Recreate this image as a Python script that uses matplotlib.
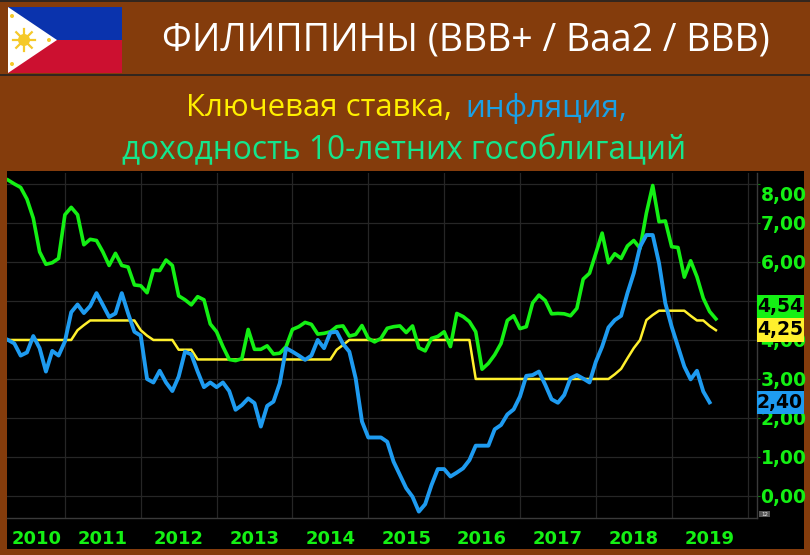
import matplotlib
matplotlib.use('Agg')
import matplotlib.pyplot as plt
from matplotlib.patches import Rectangle, Polygon, Circle
from matplotlib.transforms import ScaledTranslation
import numpy as np

# monthly values, Apr 2010 - Aug 2019 (inflation stops one month earlier)
bond_yield = [8.10, 8.00, 7.91, 7.61, 7.12, 6.26, 5.94, 5.98, 6.09, 7.21, 7.40, 7.21, 6.44, 6.58, 6.55,
              6.26, 5.91, 6.22, 5.91, 5.87, 5.41, 5.39, 5.21, 5.79, 5.78, 6.05, 5.91, 5.13, 5.03, 4.90,
              5.11, 5.03, 4.41, 4.21, 3.83, 3.50, 3.47, 3.52, 4.27, 3.76, 3.76, 3.85, 3.64, 3.66, 3.83,
              4.27, 4.34, 4.45, 4.40, 4.15, 4.17, 4.21, 4.34, 4.36, 4.10, 4.14, 4.37, 4.04, 3.95, 4.04,
              4.30, 4.34, 4.36, 4.19, 4.36, 3.80, 3.72, 4.04, 4.09, 4.21, 3.83, 4.68, 4.60, 4.47, 4.21,
              3.25, 3.40, 3.62, 3.91, 4.50, 4.62, 4.29, 4.34, 4.95, 5.15, 5.01, 4.67, 4.68, 4.67, 4.62,
              4.81, 5.56, 5.71, 6.22, 6.74, 5.98, 6.21, 6.09, 6.41, 6.55, 6.35, 7.25, 7.96, 7.03, 7.05,
              6.39, 6.37, 5.61, 6.03, 5.62, 5.07, 4.73, 4.54]
inflation = [4.00, 3.91, 3.60, 3.68, 4.10, 3.79, 3.19, 3.72, 3.60, 3.96, 4.71, 4.91, 4.69, 4.87, 5.20,
             4.90, 4.59, 4.68, 5.20, 4.68, 4.21, 4.11, 3.00, 2.91, 3.21, 2.91, 2.69, 3.06, 3.70, 3.63,
             3.19, 2.79, 2.91, 2.79, 2.91, 2.69, 2.21, 2.33, 2.50, 2.38, 1.78, 2.31, 2.42, 2.89, 3.79,
             3.70, 3.60, 3.49, 3.60, 4.00, 3.79, 4.19, 4.21, 3.90, 3.70, 3.02, 1.91, 1.50, 1.50, 1.50,
             1.39, 0.88, 0.54, 0.20, -0.02, -0.40, -0.21, 0.28, 0.69, 0.69, 0.50, 0.60, 0.71, 0.92, 1.29,
             1.29, 1.29, 1.71, 1.82, 2.09, 2.22, 2.55, 3.08, 3.10, 3.19, 2.85, 2.48, 2.39, 2.59, 3.02,
             3.10, 3.01, 2.91, 3.44, 3.83, 4.32, 4.51, 4.62, 5.20, 5.71, 6.39, 6.69, 6.69, 5.97, 4.94,
             4.34, 3.83, 3.32, 2.99, 3.21, 2.68, 2.40]
key_rate = [4.00, 4.00, 4.00, 4.00, 4.00, 4.00, 4.00, 4.00, 4.00, 4.00, 4.00, 4.25, 4.38, 4.50, 4.50,
            4.50, 4.50, 4.50, 4.50, 4.50, 4.50, 4.25, 4.11, 4.00, 4.00, 4.00, 4.00, 3.75, 3.75, 3.75,
            3.50, 3.50, 3.50, 3.50, 3.50, 3.50, 3.50, 3.50, 3.50, 3.50, 3.50, 3.50, 3.50, 3.50, 3.50,
            3.50, 3.50, 3.50, 3.50, 3.50, 3.50, 3.50, 3.75, 3.87, 4.00, 4.00, 4.00, 4.00, 4.00, 4.00,
            4.00, 4.00, 4.00, 4.00, 4.00, 4.00, 4.00, 4.00, 4.00, 4.00, 4.00, 4.00, 4.00, 4.00, 3.00,
            3.00, 3.00, 3.00, 3.00, 3.00, 3.00, 3.00, 3.00, 3.00, 3.00, 3.00, 3.00, 3.00, 3.00, 3.00,
            3.00, 3.00, 3.00, 3.00, 3.00, 3.00, 3.12, 3.26, 3.53, 3.79, 4.00, 4.51, 4.64, 4.75, 4.75,
            4.75, 4.75, 4.75, 4.62, 4.50, 4.50, 4.36, 4.25]

year_labels = ['2010', '2011', '2012', '2013', '2014', '2015', '2016', '2017', '2018', '2019']
year_pos = [4.5, 15, 27, 39, 51, 63, 75, 87, 99, 111]
year_grid = [9, 21, 33, 45, 57, 69, 81, 93, 105, 117]
y_ticks = [0, 1, 2, 3, 4, 5, 6, 7, 8]
# 5,00 is covered by the last value boxes in the original
y_labels = ['0,00', '1,00', '2,00', '3,00', '4,00', '', '6,00', '7,00', '8,00']

BROWN = '#843C0C'
GREEN = '#14F014'
BLUE = '#1E9BF0'
YELLOW = '#FFF02D'

W, H = 810, 555
fig = plt.figure(figsize=(W / 100, H / 100), dpi=100, facecolor=BROWN)

# background layer in pixel coordinates: banner, flag, headings
bg = fig.add_axes([0, 0, 1, 1])
bg.set_xlim(0, W)
bg.set_ylim(H, 0)
bg.axis('off')

bg.add_patch(Rectangle((7, 171), 797, 378, color='black', lw=0))
bg.plot([0, W], [1, 1], color='#222222', lw=1.2)
bg.plot([0, W], [74.5, 74.5], color='#222222', lw=1.2)

# flag
bg.add_patch(Rectangle((8, 7), 114, 33, color='#0A33AD', lw=0))
bg.add_patch(Rectangle((8, 40), 114, 33, color='#CC1030', lw=0))
bg.add_patch(Polygon([(8, 7), (57, 40), (8, 73)], color='white', lw=0))
bg.add_patch(Circle((24, 40), 6, color='#F5C92A', lw=0))
for a in np.arange(0, 360, 45):
    dx, dy = np.cos(np.radians(a)), np.sin(np.radians(a))
    bg.plot([24 + 5 * dx, 24 + 11 * dx], [40 + 5 * dy, 40 + 11 * dy], color='#F5C92A', lw=1.6)
for sx, sy in [(12, 16), (49, 40), (12, 64)]:
    bg.add_patch(Circle((sx, sy), 2, color='#F5C92A', lw=0))

font = 'Open Sans'
bg.text(162, 41, 'ФИЛИППИНЫ (BBB+ / Baa2 / BBB)', color='white', fontsize=27, family=font, va='center', ha='left')
bg.text(186, 108, 'Ключевая ставка,', color='#FFF000', fontsize=22.5, family=font, va='center', ha='left')
bg.text(465, 108, 'инфляция,', color='#1AA0E6', fontsize=22.5, family=font, va='center', ha='left')
bg.text(122, 151, 'доходность 10-летних гособлигаций', color='#14E68C', fontsize=22.8, family=font, va='center', ha='left')

# chart axes, right edge at 757 px, bottom at 518 px
ax = fig.add_axes([7 / W, 1 - 518 / H, 750 / W, 345 / H])
ax.set_facecolor('black')
x = np.arange(len(bond_yield))
ax.plot(x, key_rate, color=YELLOW, lw=1.8, zorder=3)
ax.plot(x, bond_yield, color=GREEN, lw=2.6, zorder=3.1)
ax.plot(x[:len(inflation)], inflation, color=BLUE, lw=2.8, zorder=3.2)

ax.set_xlim(-0.16, 118.5)
ax.set_ylim(-0.564, 8.28)

ax.set_xticks(year_grid)
ax.set_xticklabels([])
ax.set_xticks(year_pos, minor=True)
ax.set_xticklabels(year_labels, minor=True, color=GREEN, fontsize=13, fontweight='bold')
ax.tick_params(axis='x', which='major', length=0)
ax.tick_params(axis='x', which='minor', length=0, pad=9)

ax.yaxis.tick_right()
ax.set_yticks(y_ticks)
ax.set_yticklabels(y_labels, color=GREEN, fontsize=13.5, fontweight='bold')
ax.tick_params(axis='y', length=2, color='#0C7A0C', pad=0.5)
# the top label sits lower than its grid line
lab8 = ax.get_yticklabels()[-1]
lab8.set_transform(lab8.get_transform() + ScaledTranslation(0, -10 / 100, fig.dpi_scale_trans))

ax.grid(True, which='major', color='#262626', lw=0.9)
for side in ['top', 'left']:
    ax.spines[side].set_visible(False)
for side in ['bottom', 'right']:
    ax.spines[side].set_color('#3A3A3A')
    ax.spines[side].set_linewidth(1)


def to_ax(xp, yp):
    # figure pixels to axes fractions
    return (xp - 7) / 750, (518 - yp) / 345


# last value boxes over the tick labels
for top, bot, col, txt in [(295, 318, GREEN, '4,54'), (318, 342, YELLOW, '4,25'), (391, 414, BLUE, '2,40')]:
    ax.add_patch(Rectangle(to_ax(757, bot), 47 / 750, (bot - top) / 345, transform=ax.transAxes,
                           color=col, lw=0, clip_on=False, zorder=6))
    xt, yt = to_ax(780, (top + bot) / 2)
    ax.text(xt, yt, txt, transform=ax.transAxes, color='black', fontsize=13.5, fontweight='bold',
            ha='center', va='center', zorder=7, clip_on=False)

# small scale marker under the axis
ax.add_patch(Rectangle(to_ax(759, 517), 11 / 750, 6 / 345, transform=ax.transAxes,
                       color='#555555', lw=0, clip_on=False, zorder=6))
xt, yt = to_ax(764.5, 514)
ax.text(xt, yt, '12', transform=ax.transAxes, color='#EEEEEE', fontsize=4, ha='center', va='center',
        zorder=7, clip_on=False)

plt.savefig('out.png', dpi=100, facecolor=fig.get_facecolor())
